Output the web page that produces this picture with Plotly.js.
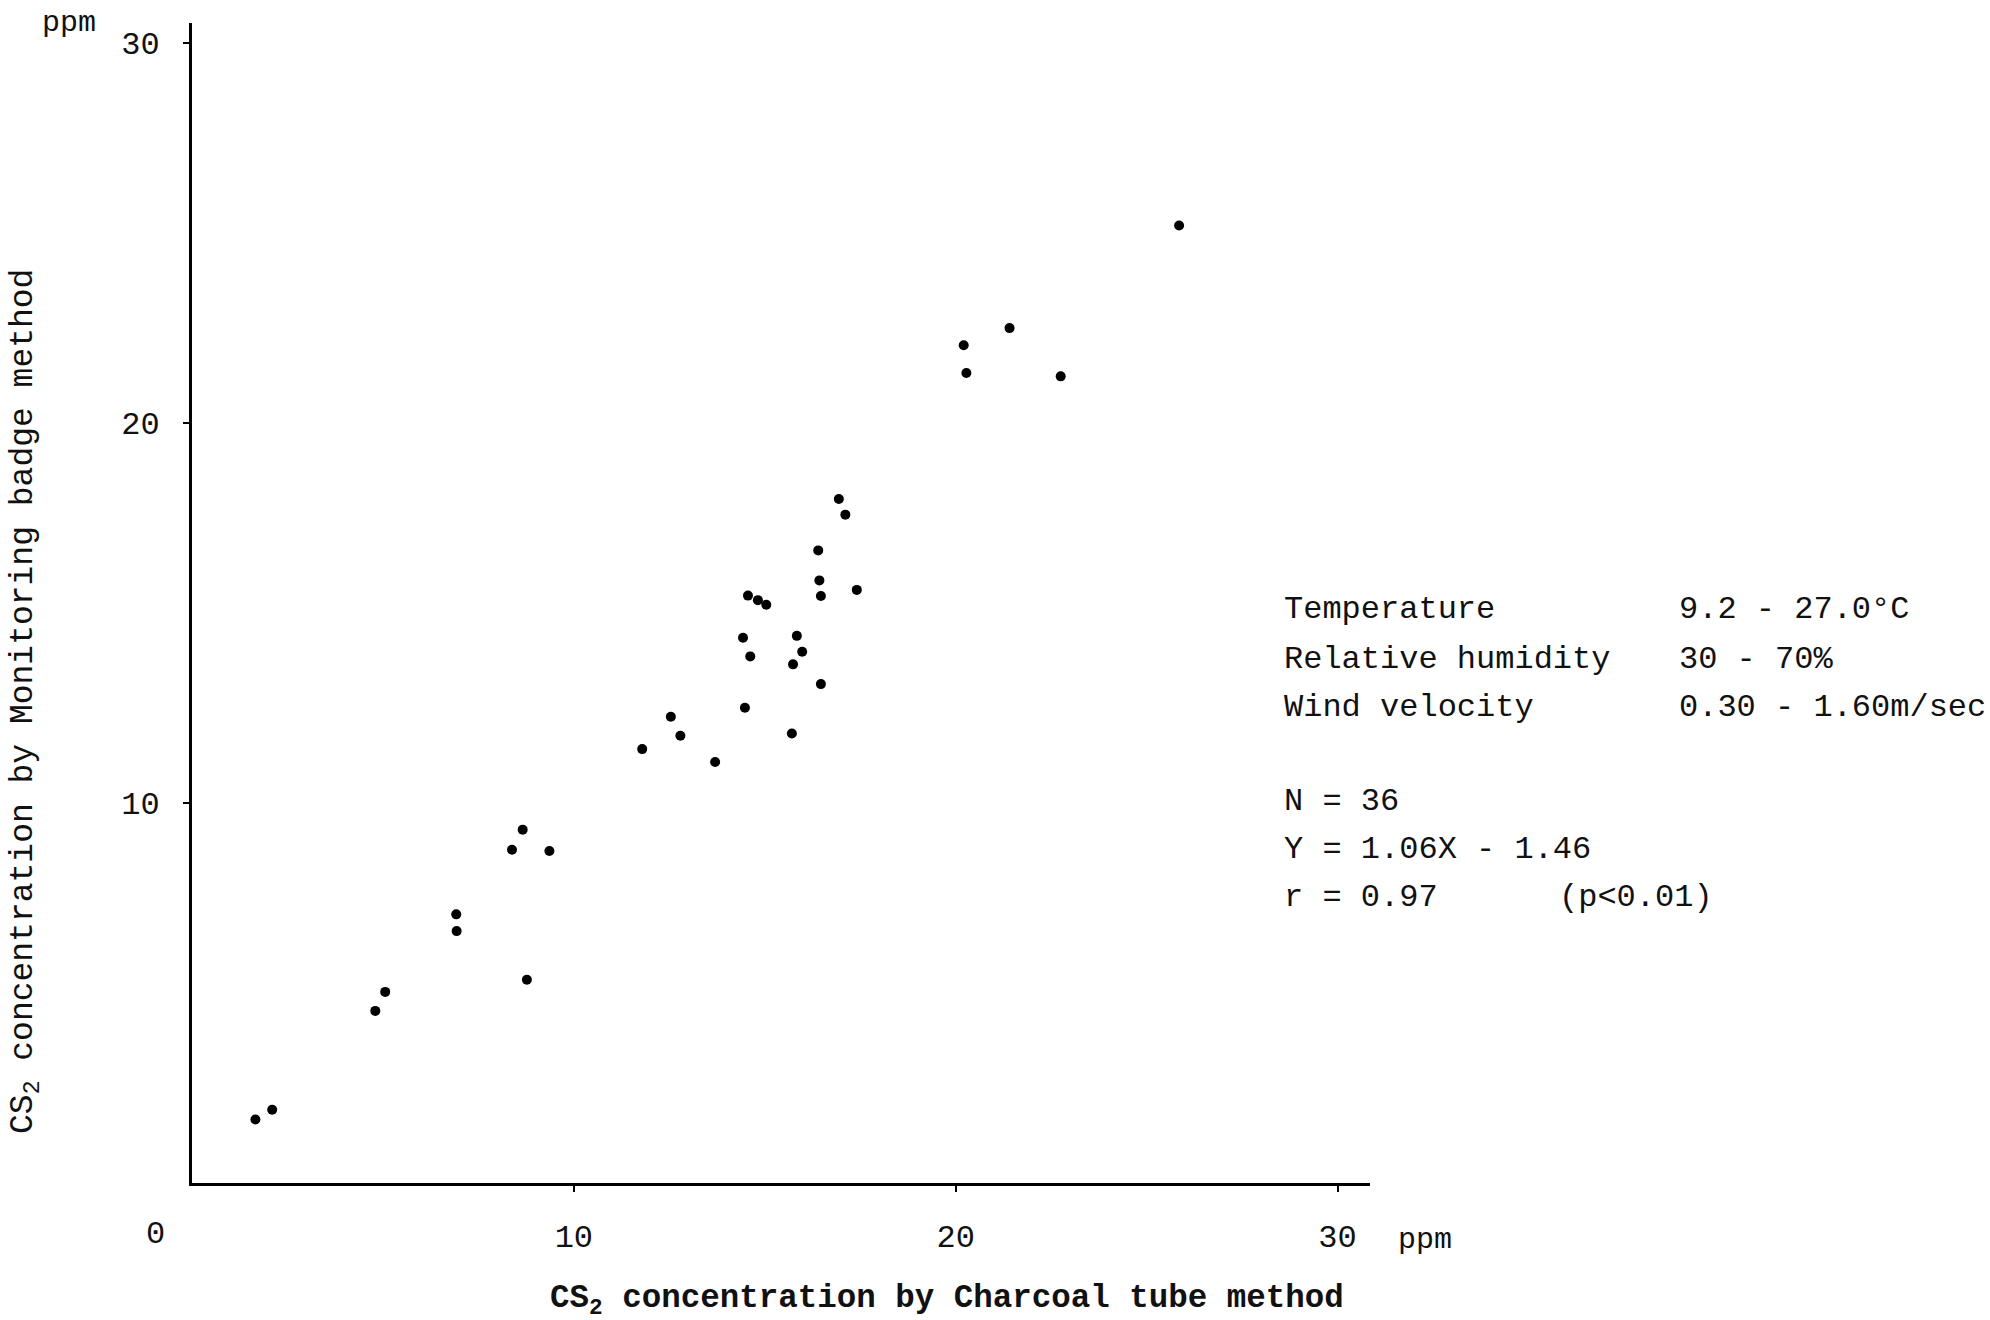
<!DOCTYPE html>
<html>
<head>
<meta charset="utf-8">
<script src="https://cdn.plot.ly/plotly-3.0.1.min.js"></script>
<style>
  html, body { margin: 0; padding: 0; background: #ffffff; }
  #chart { width: 1990px; height: 1320px; }
</style>
</head>
<body>
<div id="chart"></div>
<script>
// CS2 concentration by Charcoal tube method (ppm)
const charcoalTube = [1.66, 2.10, 4.80, 5.06, 6.92, 6.93, 8.38, 8.66, 8.77, 9.36,
                      11.79, 12.54, 12.79, 13.70, 14.43, 14.48, 14.56, 14.62, 14.82, 15.04,
                      15.71, 15.74, 15.84, 15.98, 16.40, 16.43, 16.47, 16.47, 16.94, 17.11,
                      17.41, 20.21, 20.28, 21.41, 22.75, 25.85];
// CS2 concentration by Monitoring badge method (ppm)
const monitoringBadge = [1.67, 1.93, 4.53, 5.03, 7.07, 6.63, 8.77, 9.30, 5.35, 8.74,
                         11.42, 12.27, 11.77, 11.08, 14.35, 12.51, 15.46, 13.86, 15.34, 15.22,
                         11.83, 13.65, 14.40, 13.98, 16.65, 15.86, 15.45, 13.13, 18.00, 17.59,
                         15.61, 22.05, 21.32, 22.50, 21.23, 25.20];

const xTickVals = [10, 20, 30];
const xTickText = ["10", "20", "30"];
const yTickVals = [10, 20, 30];
const yTickText = ["10", "20", "30"];

const xTitle = "CS<sub>2</sub> concentration by Charcoal tube method";
const yTitle = "CS<sub>2</sub> concentration by Monitoring badge method";
const conditionLabels = ["Temperature", "Relative humidity", "Wind velocity"];
const conditionValues = ["9.2 - 27.0°C", "30 - 70%", "0.30 - 1.60m/sec"];
const statLines = ["N = 36", "Y = 1.06X - 1.46", "r = 0.97"];
const pText = "(p&lt;0.01)";

const FONT = "Liberation Mono, Courier New, monospace";

const trace = {
  type: "scatter",
  mode: "markers",
  x: charcoalTube,
  y: monitoringBadge,
  marker: { color: "#000000", size: 10, line: { width: 0 } },
  cliponaxis: false,
  hoverinfo: "x+y"
};

const condRowsY = [0.494, 0.4517, 0.4103];
const statRowsY = [0.3293, 0.2871, 0.2457];

const annotations = [];
function addText(text, x, y, opts) {
  annotations.push(Object.assign({
    text: text, x: x, y: y, xref: "paper", yref: "paper",
    showarrow: false, xanchor: "left", yanchor: "middle",
    font: { family: FONT, size: 32, color: "#111111" }
  }, opts || {}));
}

conditionLabels.forEach((t, i) => addText(t, 0.9253, condRowsY[i]));
conditionValues.forEach((t, i) => addText(t, 1.2606, condRowsY[i]));
statLines.forEach((t, i) => addText(t, 0.9253, statRowsY[i]));
addText(pText, 1.1588, statRowsY[2]);

// unit labels and origin
addText("ppm", -0.104, 1.0, { xanchor: "center", font: { family: FONT, size: 30, color: "#111111" } });
addText("ppm", 1.0467, -0.049, { xanchor: "center", font: { family: FONT, size: 30, color: "#111111" } });
addText("0", -0.0314, -0.0448, { xanchor: "center", font: { family: FONT, size: 32, color: "#111111" } });

// axis titles
addText(xTitle, 0.641, -0.1017, { xanchor: "center", font: { family: FONT, size: 32.5, color: "#111111", weight: "bold" } });
addText(yTitle, -0.1418, 0.4155, { xanchor: "center", textangle: -90, font: { family: FONT, size: 33, color: "#111111" } });

const layout = {
  width: 1990,
  height: 1320,
  paper_bgcolor: "#ffffff",
  plot_bgcolor: "#ffffff",
  showlegend: false,
  margin: { l: 192, r: 620, t: 23, b: 137, pad: 0 },
  font: { family: FONT, size: 32, color: "#111111" },
  xaxis: {
    range: [0, 30.85],
    showgrid: false, zeroline: false,
    showline: true, linecolor: "#000000", linewidth: 2.5,
    ticks: "outside", ticklen: 6, tickwidth: 2, tickcolor: "#000000",
    tickvals: xTickVals, ticktext: xTickText,
    ticklabelstandoff: 17,
    tickfont: { family: FONT, size: 32, color: "#111111" }
  },
  yaxis: {
    range: [0, 30.53],
    showgrid: false, zeroline: false,
    showline: true, linecolor: "#000000", linewidth: 3,
    ticks: "outside", ticklen: 6, tickwidth: 2, tickcolor: "#000000",
    tickvals: yTickVals, ticktext: yTickText,
    ticklabelstandoff: 17,
    tickfont: { family: FONT, size: 32, color: "#111111" }
  },
  annotations: annotations
};

Plotly.newPlot("chart", [trace], layout, { staticPlot: true, displayModeBar: false });
</script>
</body>
</html>
